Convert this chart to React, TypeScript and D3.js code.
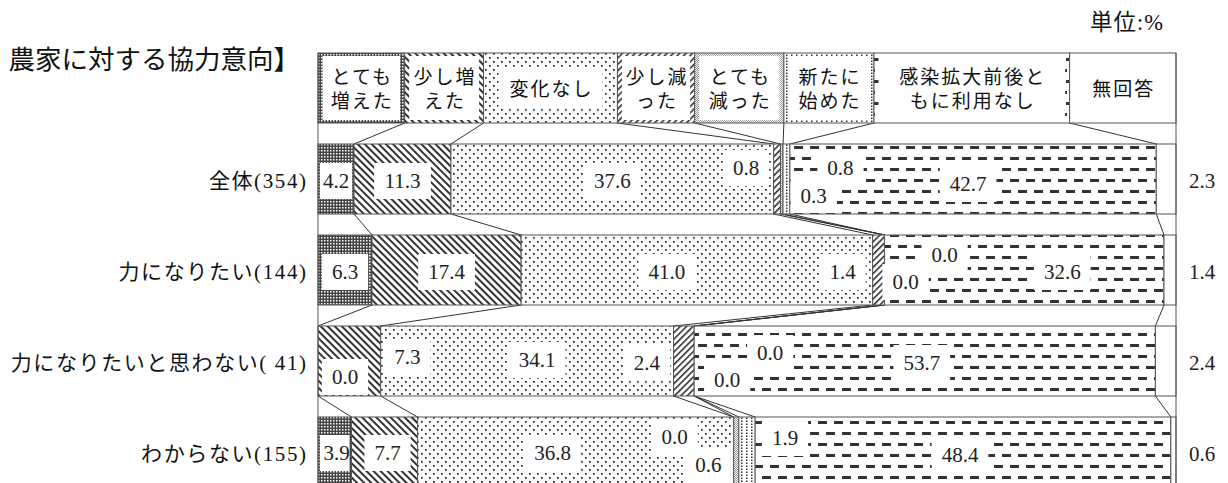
import React from "react";
import * as d3 from "d3";

const width = 1228;
const height = 483;

// 回答区分
const categories = [
  "とても増えた",
  "少し増えた",
  "変化なし",
  "少し減った",
  "とても減った",
  "新たに始めた",
  "感染拡大前後ともに利用なし",
  "無回答",
];
// 凡例の改行
const legendLines = [
  ["とても", "増えた"],
  ["少し増", "えた"],
  ["変化なし"],
  ["少し減", "った"],
  ["とても", "減った"],
  ["新たに", "始めた"],
  ["感染拡大前後と", "もに利用なし"],
  ["無回答"],
];
// 凡例の行は Excel と同じくダミーの行として積み上げる
const legendShare = [10.1, 9.2, 15.6, 9.0, 10.4, 10.5, 22.8, 12.4];

const groups = ["全体(354)", "力になりたい(144)", "力になりたいと思わない( 41)", "わからない(155)"];
const zentai = [4.2, 11.3, 37.6, 0.8, 0.3, 0.8, 42.7, 2.3];
const naritai = [6.3, 17.4, 41.0, 1.4, 0.0, 0.0, 32.6, 1.4];
const omowanai = [0.0, 7.3, 34.1, 2.4, 0.0, 0.0, 53.7, 2.4];
const wakaranai = [3.9, 7.7, 36.8, 0.0, 0.6, 1.9, 48.4, 0.6];
const series = [zentai, naritai, omowanai, wakaranai];

// ラベルの手動ずらし (セグメント中心からのpx)
const labelNudge: [number, number][][] = [
  [[0, 2], [0, 2], [0, 2], [-31, -11], [32, 17], [54, -11], [-5, 5]],
  [[0, 2], [0, 2], [-30, 2], [-36, 2], [21, 12], [60, -15], [38, 2]],
  [[27, 16], [58, -4], [10, -1], [-37, 2], [33, 19], [76, -8], [-3, 2]],
  [[2, 1], [3, 1], [-23, 1], [-59, -15], [-28, 13], [38, -14], [-3, 3]],
];

const serif = "'Liberation Serif', 'Noto Sans CJK JP', serif";
const stroke = "#555";
const valSize = 21;

const rowKeys = ["legend", ...groups];
const rowsData = [legendShare, ...series].map((vals) => {
  const o: any = {};
  categories.forEach((c, j) => (o[c] = vals[j]));
  return o;
});

function textW(s: string, size: number) {
  let w = 0;
  for (const ch of s) w += ch === "." ? 0.25 : 0.5;
  return w * size;
}

export default function App() {
  const x = d3.scaleLinear().domain([0, 1]).range([318, 1176]);
  const y = d3.scaleBand<string>().domain(rowKeys).range([53, 487]).paddingInner(21 / 91);
  const bw = y.bandwidth();
  const stacked = d3.stack<any>().keys(categories).offset(d3.stackOffsetExpand)(rowsData);

  const fills = ["url(#p0)", "url(#p1)", "url(#p2)", "url(#p3)", "url(#p4)", "url(#p5)", "url(#p6)", "#fff"];

  // 行間の接続線
  const connectors: JSX.Element[] = [];
  for (let r = 0; r < rowKeys.length - 1; r++) {
    for (let j = 0; j < categories.length - 1; j++) {
      const a = stacked[j][r][1];
      const b = stacked[j][r + 1][1];
      connectors.push(
        <line key={r + "-" + j} x1={x(a)} y1={y(rowKeys[r])! + bw} x2={x(b)} y2={y(rowKeys[r + 1])!}
          stroke="#333" strokeWidth={1} />
      );
    }
  }

  // 凡例
  const legend = categories.map((c, j) => {
    const [a, b] = stacked[j][0];
    const x0 = x(a), x1 = x(b);
    const top = y("legend")!;
    const lines = legendLines[j];
    const cx = (x0 + x1) / 2, cy = top + bw / 2;
    let bwid: number, bh: number;
    if (lines.length === 1) {
      bwid = lines[0].length * 21 + 20;
      bh = 38;
    } else {
      bwid = x1 - x0 - 9;
      bh = bw - 6;
    }
    return (
      <g key={c}>
        <rect x={x0} y={top} width={x1 - x0} height={bw} fill={fills[j]} stroke={stroke} />
        <rect x={cx - bwid / 2} y={cy - bh / 2} width={bwid} height={bh} fill="#fff" />
        {lines.map((t, k) => (
          <text key={k} x={cx + 1} y={cy + 1 + (k - (lines.length - 1) / 2) * 24} dy="0.36em" textAnchor="middle"
            fontFamily={serif} fontSize={19} letterSpacing={2} fill="#111">{t}</text>
        ))}
      </g>
    );
  });

  // 各行の帯とラベル
  const bars = groups.map((g, gi) => {
    const r = gi + 1;
    const top = y(g)!;
    const cy = top + bw / 2;
    const segs = categories.map((c, j) => {
      const [a, b] = stacked[j][r];
      return <rect key={c} x={x(a)} y={top} width={Math.max(0, x(b) - x(a))} height={bw} fill={fills[j]} stroke={stroke} />;
    });
    const labels = categories.map((c, j) => {
      const v = series[gi][j].toFixed(1);
      const tw = textW(v, valSize);
      if (j === categories.length - 1) {
        return (
          <text key={c} x={1202} y={cy + 2} dy="0.35em" textAnchor="middle" fontFamily={serif} fontSize={valSize} fill="#222">{v}</text>
        );
      }
      const [a, b] = stacked[j][r];
      const sx0 = x(a), sx1 = x(b);
      const [dx, dy] = labelNudge[gi][j];
      const lx = (sx0 + sx1) / 2 + dx;
      const ly = cy + dy;
      let bx0 = lx - (tw + 20) / 2, bx1 = lx + (tw + 20) / 2;
      if (lx > sx0 && lx < sx1) {
        bx0 = Math.max(bx0, sx0 + 2);
        bx1 = Math.min(bx1, sx1 - 2);
      }
      const by0 = Math.max(ly - 18, top + 1), by1 = Math.min(ly + 18, top + bw - 1);
      return (
        <g key={c}>
          <rect x={bx0} y={by0} width={bx1 - bx0} height={by1 - by0} fill="#fff" />
          <text x={lx} y={ly} dy="0.35em" textAnchor="middle" fontFamily={serif} fontSize={valSize} fill="#222">{v}</text>
        </g>
      );
    });
    return (
      <g key={g}>
        {segs}
        {labels}
        <text x={307.6} y={cy + 2} dy="0.35em" textAnchor="end" fontFamily={serif} fontSize={21} letterSpacing={1.6} fill="#111">{g}</text>
      </g>
    );
  });

  return (
    <svg width={width} height={height} style={{ position: "absolute", left: 0, top: 0, background: "#fff" }}>
      <defs>
        <pattern id="p0" width={3} height={3} patternUnits="userSpaceOnUse">
          <rect width={3} height={3} fill="#444" />
          <rect width={1.5} height={1.5} fill="#fff" />
        </pattern>
        <pattern id="p1" width={5} height={5} patternUnits="userSpaceOnUse" patternTransform="rotate(-45)">
          <rect width={5} height={5} fill="#fff" />
          <rect width={2} height={5} fill="#333" />
        </pattern>
        <pattern id="p2" width={8} height={8} patternUnits="userSpaceOnUse">
          <rect width={8} height={8} fill="#fff" />
          <rect x={1} y={1} width={1.7} height={1.7} fill="#222" />
          <rect x={5} y={5} width={1.7} height={1.7} fill="#222" />
        </pattern>
        <pattern id="p3" width={4.5} height={4.5} patternUnits="userSpaceOnUse" patternTransform="rotate(45)">
          <rect width={4.5} height={4.5} fill="#fff" />
          <rect width={1.6} height={4.5} fill="#333" />
        </pattern>
        <pattern id="p4" width={2} height={2} patternUnits="userSpaceOnUse">
          <rect width={2} height={2} fill="#fff" />
          <rect width={1} height={1} fill="#999" />
          <rect x={1} y={1} width={1} height={1} fill="#999" />
        </pattern>
        <pattern id="p5" width={5} height={3} patternUnits="userSpaceOnUse">
          <rect width={5} height={3} fill="#fff" />
          <rect x={1} y={0.5} width={1.5} height={1.5} fill="#333" />
        </pattern>
        <pattern id="p6" width={16} height={22} patternUnits="userSpaceOnUse">
          <rect width={16} height={22} fill="#fff" />
          <rect x={2} y={3} width={9} height={3} fill="#333" />
          <rect x={10} y={14} width={9} height={3} fill="#333" />
          <rect x={-6} y={14} width={9} height={3} fill="#333" />
        </pattern>
      </defs>

      <text x={300} y={59} dy="0.36em" textAnchor="end" fontFamily="'Noto Sans CJK JP', sans-serif" fontSize={26.5} fill="#111">農家に対する協力意向】</text>
      <text x={1164} y={22} dy="0.36em" textAnchor="end" fontFamily={serif} fontSize={22.5} letterSpacing={1} fill="#111">単位:%</text>

      {connectors}
      {legend}
      {bars}
      <line x1={318} y1={53} x2={318} y2={487} stroke={stroke} />
      <line x1={1176} y1={53} x2={1176} y2={487} stroke={stroke} />
    </svg>
  );
}
